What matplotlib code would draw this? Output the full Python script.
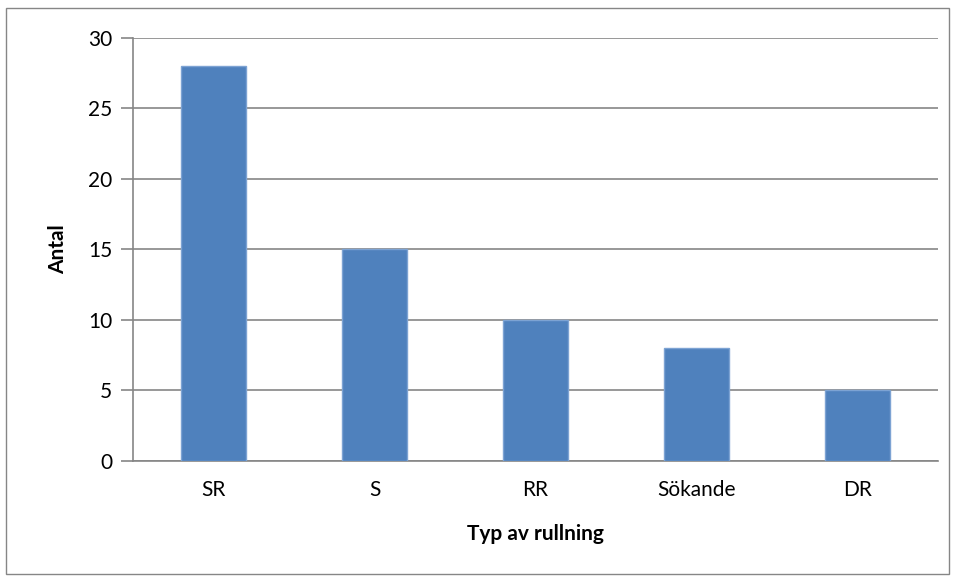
import matplotlib.pyplot as plt
from matplotlib.patches import Rectangle

categories = ["SR", "S", "RR", "Sökande", "DR"]
counts = [28, 15, 10, 8, 5]
y_ticks = [0, 5, 10, 15, 20, 25, 30]

plt.rcParams['font.family'] = ['Lato', 'DejaVu Sans']

fig = plt.figure(figsize=(9.55, 5.79), dpi=100)
ax = fig.add_axes([0.1393, 0.2043, 0.8429, 0.7306])

x = range(len(categories))
ax.bar(x, counts, width=0.4, color='#4F81BD', edgecolor='#7DA3D3', linewidth=1, zorder=3)

ax.set_xlim(-0.5, len(categories) - 0.5)
ax.set_ylim(0, 30)
ax.set_yticks(y_ticks)
ax.set_xticks(list(x))
ax.set_xticklabels(categories)

ax.yaxis.grid(True, color='#868686', linewidth=1.2, zorder=0)
for side in ['top', 'right']:
    ax.spines[side].set_visible(False)
for side in ['left', 'bottom']:
    ax.spines[side].set_color('#868686')
    ax.spines[side].set_linewidth(1.2)

ax.tick_params(axis='y', length=9, width=1.2, color='#868686', labelsize=15, pad=6)
ax.tick_params(axis='x', length=0, labelsize=15, pad=14)

ax.set_ylabel('Antal', fontsize=15, fontweight='bold', labelpad=14)
ax.set_xlabel('Typ av rullning', fontsize=15, fontweight='bold', labelpad=17)

# thin frame around the whole chart
fig.patches.append(Rectangle((6 / 955, 5 / 579), 943 / 955, 566 / 579,
                             transform=fig.transFigure, fill=False,
                             edgecolor='#868686', linewidth=1))

fig.savefig('out.png', dpi=100)
